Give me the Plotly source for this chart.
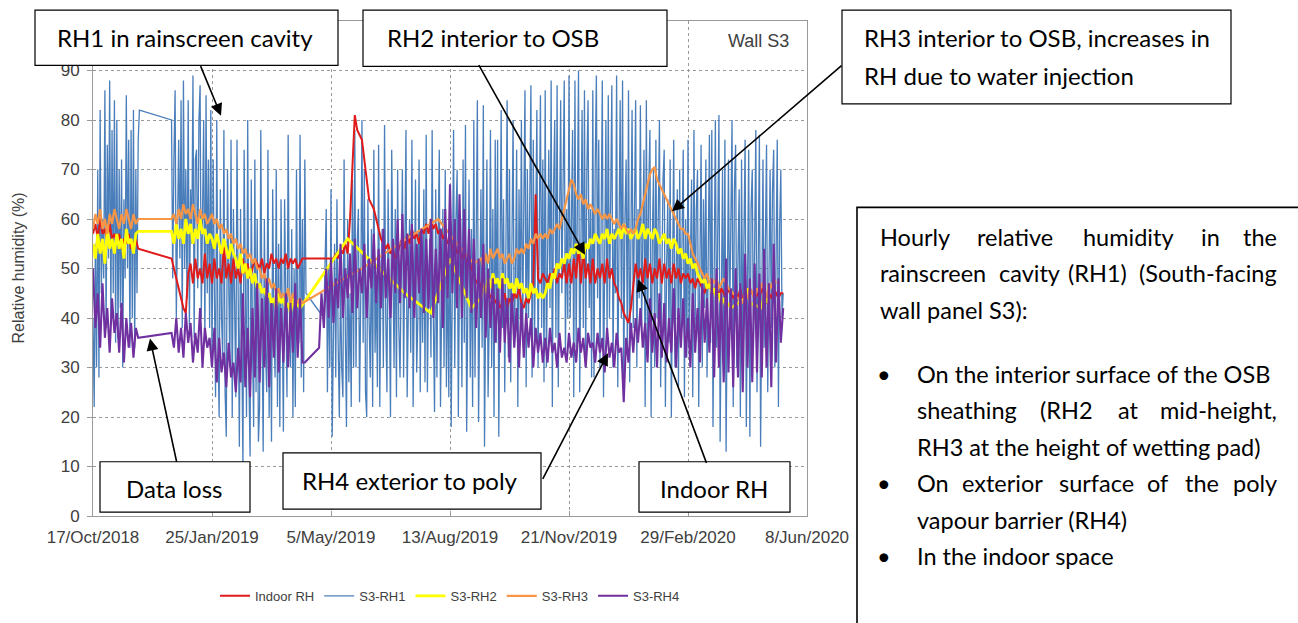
import plotly.graph_objects as go
import pandas as pd

N = None

# ---------------- data ----------------
START = "2018-10-17"
STEP_DAYS = 2       # indoor / RH2 / RH3 / RH4 readings every 2 days
RH1_STEP_DAYS = 1   # RH1 (cavity) readings every day
x_tick_dates = ["2018-10-17", "2019-01-25", "2019-05-05", "2019-08-13",
                "2019-11-21", "2020-02-29", "2020-06-08"]
x_tick_labels = ["17/Oct/2018", "25/Jan/2019", "5/May/2019", "13/Aug/2019",
                 "21/Nov/2019", "29/Feb/2020", "8/Jun/2020"]
y_tick_vals = [0, 10, 20, 30, 40, 50, 60, 70, 80, 90]

# RH1: blocks of 20 days
rh1_blocks = [
    [40, 22, 55, 30, 70, 28, 82, 45, 60, 48, 86, 38, 75, 52, 88, 40, 78, 45, 84, 35],
    [80, 36, 70, 42, 72, 30, 64, 48, 85, 50, 76, 34, 78, 40, 82, 34, 70, 45, 76, 82],
    [N] * 20,
    [N, N, N, N, N, N, 80, 48, 72, 86, 40, 60, 76, 52, 84, 38, 88, 50, 70, 44],
    [84, 38, 66, 55, 89, 36, 72, 74, 46, 80, 87, 40, 62, 80, 35, 85, 45, 72, 38, 82],
    [30, 72, 45, 24, 80, 35, 20, 66, 40, 32, 78, 25, 16, 70, 48, 30, 76, 20, 62, 35],
    [24, 76, 38, 14, 62, 30, 10, 74, 42, 20, 80, 28, 12, 68, 35, 18, 72, 25, 60, 15],
    [22, 78, 40, 13, 60, 33, 25, 74, 20, 45, 15, 66, 38, 28, 70, 22, 55, 18, 64, 30],
    [17, 64, 35, 24, 77, 42, 30, 58, 20, 50, 22, 70, 38, 35, 77, 28, 60, 25, 72, 45],
    [N, N, N, N, N, N, N, N, N, N, N, N, N, N, 40, 55, 62, 25, 50, 30],
    [66, 16, 40, 55, 28, 64, 35, 20, 48, 30, 24, 72, 38, 18, 60, 27, 45, 22, 68, 30],
    [78, 30, 55, 62, 23, 44, 80, 35, 70, 25, 20, 64, 40, 28, 58, 22, 74, 33, 48, 26],
    [75, 22, 50, 58, 30, 79, 40, 25, 66, 36, 20, 74, 45, 30, 62, 24, 70, 38, 28, 55],
    [70, 28, 52, 78, 24, 45, 60, 33, 76, 22, 50, 68, 29, 40, 72, 25, 58, 35, 66, 27],
    [77, 25, 48, 56, 32, 78, 40, 21, 66, 28, 55, 74, 22, 45, 62, 30, 70, 26, 52, 24],
    [64, 18, 42, 78, 30, 60, 70, 20, 50, 60, 26, 72, 35, 79, 17, 45, 68, 28, 58, 22],
    [80, 28, 60, 84, 19, 45, 66, 34, 83, 14, 55, 72, 24, 40, 78, 30, 62, 20, 76, 35],
    [76, 16, 50, 82, 38, 64, 25, 55, 84, 32, 70, 27, 60, 80, 35, 48, 74, 22, 66, 40],
    [80, 35, 62, 86, 26, 70, 40, 58, 87, 28, 76, 34, 65, 82, 30, 55, 85, 38, 72, 27],
    [86, 30, 60, 74, 42, 88, 22, 66, 80, 36, 87, 26, 58, 84, 45, 70, 88, 32, 62, 40],
    [89, 40, 65, 78, 24, 88, 34, 72, 90, 25, 60, 82, 38, 86, 30, 70, 84, 42, 62, 28],
    [86, 28, 70, 89, 44, 76, 30, 62, 88, 24, 55, 80, 36, 85, 40, 68, 87, 30, 58, 45],
    [89, 26, 66, 84, 40, 88, 25, 60, 72, 34, 86, 27, 55, 82, 38, 68, 84, 30, 62, 44],
    [83, 38, 58, 74, 22, 84, 32, 66, 78, 20, 55, 70, 30, 76, 40, 62, 80, 26, 50, 68],
    [74, 22, 50, 64, 35, 72, 20, 58, 76, 30, 45, 66, 26, 70, 38, 55, 74, 24, 60, 32],
    [76, 34, 56, 68, 24, 78, 38, 62, 70, 22, 50, 75, 30, 64, 42, 72, 28, 58, 77, 35],
    [78, 18, 55, 80, 34, 62, 81, 15, 45, 70, 28, 76, 13, 50, 72, 38, 60, 80, 22, 66],
    [75, 30, 52, 66, 20, 72, 36, 58, 76, 18, 48, 74, 16, 62, 70, 34, 55, 78, 25, 60],
    [77, 14, 50, 72, 34, 60, 75, 25, 45, 70, 38, 66, 74, 30, 52, 76, 22, 58, 70, 40],
    [45],
]

# other series: blocks of 10 readings (20 days)
rh4_blocks = [
    [50, 38, 45, 34, 47, 36, 42, 33, 44, 37],
    [41, 33, 43, 31, 40, 34, 39, 32, 38, 36],
    [N] * 10,
    [N, N, N, 37, 34, 40, 33, 38, 32, 41],
    [35, 39, 31, 37, 33, 42, 30, 38, 34, 36],
    [30, 38, 27, 36, 29, 33, 26, 35, 28, 31],
    [25, 34, 27, 45, 26, 38, 24, 42, 28, 47],
    [27, 44, 30, 48, 26, 43, 32, 46, 29, 42],
    [31, 45, 30, 43, 33, 47, 32, 44, 31, 31],
    [N, N, N, N, N, 34, 45, 38, 50, 40],
    [52, 39, 48, 42, 55, 40, 50, 44, 53, 41],
    [56, 42, 50, 45, 55, 40, 52, 46, 57, 43],
    [54, 42, 58, 44, 52, 40, 56, 45, 60, 43],
    [61, 44, 57, 42, 59, 40, 55, 45, 58, 41],
    [56, 42, 60, 40, 54, 43, 58, 38, 62, 44],
    [67, 45, 60, 42, 65, 40, 62, 44, 58, 41],
    [56, 38, 52, 40, 55, 36, 50, 38, 48, 35],
    [46, 33, 48, 35, 44, 31, 45, 34, 42, 30],
    [43, 32, 41, 34, 40, 30, 38, 33, 37, 31],
    [36, 31, 38, 33, 35, 30, 37, 32, 34, 31],
    [37, 32, 35, 31, 38, 33, 36, 30, 37, 34],
    [35, 31, 37, 33, 36, 29, 38, 32, 35, 30],
    [37, 33, 34, 23, 36, 31, 39, 33, 40, 35],
    [42, 34, 39, 31, 44, 33, 41, 30, 45, 32],
    [43, 31, 40, 33, 46, 30, 42, 34, 44, 32],
    [40, 30, 45, 33, 42, 31, 47, 35, 44, 33],
    [48, 28, 50, 30, 45, 27, 52, 29, 46, 26],
    [50, 28, 47, 25, 53, 30, 48, 27, 51, 29],
    [49, 28, 54, 30, 47, 26, 55, 31, 48, 35],
    [42],
]

rh2_blocks = [
    [55, 52, 57, 53, 56, 51, 58, 54, 56, 53],
    [57, 54, 56, 52, 58, 55, 56, 53, 57, 57.5],
    [N] * 10,
    [N, N, N, 57.5, 55, 59, 56, 58, 55, 60],
    [57, 59, 55, 58, 56, 60, 57, 58, 55, 57],
    [56, 54, 57, 55, 53, 56, 54, 52, 55, 53],
    [52, 50, 53, 49, 51, 48, 50, 47, 49, 46],
    [47, 45, 46, 44, 45, 43, 44, 42, 45, 43],
    [44, 42, 43, 41, 44, 42, 43, 42, N, N],
    [N] * 10,
    [N, N, N, N, N, N, N, 56, N, N],
    [N] * 10,
    [N] * 10,
    [N, 45, N, N, N, N, N, N, N, N],
    [N, N, 41, N, N, N, N, N, N, N],
    [52, N, N, N, N, N, N, N, N, 42],
    [N, N, N, 44, 47, 45, 48, 46, 49, 47],
    [48, 46, 49, 47, 48, 46, 47, 45, 48, 46],
    [47, 45, 46, 44, 47, 45, 46, 44, 45, 44],
    [45, 47, 46, 49, 48, 51, 50, 52, 51, 53],
    [52, 54, 53, 55, 53, 54, 52, 55, 54, 56],
    [55, 57, 56, 55, 57, 56, 58, 55, 57, 56],
    [57, 58, 56, 59, 57, 58, 56, 57, 58, 56],
    [57, 59, 56, 58, 57, 56, 58, 57, 55, 56],
    [57, 55, 56, 54, 56, 55, 53, 54, 52, 53],
    [51, 52, 50, 51, 49, 48, 47, 48, 46, 47],
    [45, 46, 44, 45, 43, 44, 42, 43, 42, N],
    [N, N, N, N, 44, 46, 43, N, N, N],
    [N, 42, 45, 43, 46, N, N, N, N, N],
    [N],
]

rh3_blocks = [
    [58, 61, 59, 62, 58, 60, 57, 61, 59, 62],
    [60, 58, 61, 59, 62, 60, 58, 61, 59, 60],
    [N] * 10,
    [N, N, N, 60, 61, 59, 62, 60, 63, 61],
    [62, 60, 63, 61, 59, 62, 60, 61, 59, 60],
    [61, 59, 60, 58, 59, 57, 58, 56, 57, 55],
    [56, 54, 55, 53, 54, 52, 53, 51, 52, 50],
    [50, 48, 49, 47, 48, 46, 47, 45, 46, 44],
    [45, 44, 46, 43, 45, 44, 43, 44, 43, N],
    [N] * 10,
    [N, N, 47, N, N, N, N, N, N, N],
    [N, N, N, 50, N, N, N, N, N, N],
    [N] * 10,
    [N, N, N, N, N, 57, N, N, N, N],
    [N, N, N, N, N, 60, N, N, N, N],
    [N, N, N, 55, N, N, N, N, N, N],
    [51, N, N, 52, 50, 53, 51, 54, 52, 53],
    [54, 52, 53, 51, 52, 53, 51, 52, 54, 53],
    [54, 53, 55, 54, 56, 55, 57, 56, 57, 56],
    [57, 56, 58, 57, 58, 59, 58, 60, 62, 64],
    [66, 68, 67, 65, 64, 65, 63, 64, 62, 63],
    [62, 61, 62, 61, 60, 61, 60, 61, 60, 59],
    [60, 59, 58, 59, 58, 57, 58, 57, 58, 60],
    [61, 63, 65, 67, 69, 70, 70.5, 68, 67, 66],
    [65, 64, 63, 62, 61, 60, 59, 58, 58, 57],
    [57, 55, 53, 52, 51, 50, 49, 48, 49, 47],
    [48, 47, 48, 46, 47, 48, 47, 46, N, N],
    [N, N, N, 43, 45, 44, 46, 45, 44, 46],
    [45, 47, 46, 44, 47, 46, 48, 47, N, N],
    [N],
]

indoor_blocks = [
    [57, 59, 56, 60, 57, 58, 55, 59, 56, 57],
    [55, 57, 54, 56, 55, 57, 54, 55, 56, 54],
    [N] * 10,
    [N, N, N, 52, 50, 48, 46, 44, 42, 41],
    [49, 51, 47, 52, 48, 50, 47, 53, 48, 51],
    [47, 52, 48, 50, 47, 55, 48, 51, 47, 52],
    [48, 50, 47, 52, 49, 51, 48, 50, 52, 51],
    [50, 52, 49, 51, 50, 53, 51, 52, 50, 52],
    [51, 53, 50, 52, 51, 52, 50, 51, 52, 52],
    [N] * 10,
    [52, 52, 53, 52, 54, 53, 55, 53, 60, 72],
    [81, 78, 77, 76, 72, 68, 64, 63, 62, 60],
    [58, 56, 55, 54, 55, 53, 54, 52, 53, 55],
    [56, 54, 57, 55, 58, 56, 57, 55, 58, 57],
    [59, 57, 60, 58, 59, 57, 58, 56, 57, 55],
    [56, 54, 55, 53, 54, 52, 53, 51, 52, 50],
    [49, 47, 48, 46, 47, 45, 46, 44, 45, 43],
    [44, 42, 43, 45, 42, 44, 43, 45, 44, 46],
    [43, 42, 44, 43, 45, 47, 65, 48, 47, 49],
    [48, 47, 49, 48, 50, 47, 49, 48, 51, 47],
    [51, 47, 52, 48, 55, 47, 54, 48, 51, 47],
    [52, 47, 50, 48, 51, 47, 52, 48, 50, 47],
    [46, 44, 43, 41, 40, 39, 42, 47, 51, 48],
    [50, 47, 52, 48, 51, 47, 50, 48, 52, 47],
    [51, 48, 50, 47, 51, 48, 50, 47, 49, 48],
    [49, 47, 48, 46, 48, 47, 46, 45, 47, 46],
    [46, 45, 47, 44, 46, 45, 44, 46, 45, 44],
    [45, 44, 46, 43, 45, 44, 46, 45, 44, 45],
    [44, 46, 45, 43, 45, 44, 46, 45, 44, 45],
    [45],
]


def flat(blocks):
    out = []
    for b in blocks:
        out.extend(b)
    return out


indoor_rh = flat(indoor_blocks)
s3_rh1 = flat(rh1_blocks)
s3_rh2 = flat(rh2_blocks)
s3_rh3 = flat(rh3_blocks)
s3_rh4 = flat(rh4_blocks)

n_pts = len(indoor_rh)
for s in (s3_rh2, s3_rh3, s3_rh4):
    assert len(s) == n_pts, len(s)
start_ts = pd.Timestamp(START)
dates = start_ts + pd.to_timedelta([i * STEP_DAYS for i in range(n_pts)], unit="D")
dates_rh1 = start_ts + pd.to_timedelta([i * RH1_STEP_DAYS for i in range(len(s3_rh1))], unit="D")

# ---------------- figure ----------------
L, R, T, B = 93, 807, 21, 523


def px(x):
    return (x - L) / (R - L)


def py(y):
    return (B - y) / (B - T)


fig = go.Figure()

series = [
    ("S3-RH1", dates_rh1, s3_rh1, "#4a7ebb", 1.3, 2),
    ("Indoor RH", dates, indoor_rh, "#e01b1b", 2.0, 1),
    ("S3-RH2", dates, s3_rh2, "#ffff00", 2.8, 3),
    ("S3-RH3", dates, s3_rh3, "#f79646", 2.2, 4),
    ("S3-RH4", dates, s3_rh4, "#7030a0", 2.1, 5),
]
for name, xs, vals, col, w, rank in series:
    fig.add_trace(go.Scatter(
        x=xs, y=vals, name=name, mode="lines", connectgaps=True,
        line=dict(color=col, width=w), legendrank=rank, hoverinfo="skip"))

axis_grey = "#9a9a9a"
TICKFONT = "Liberation Sans, Arial"
fig.update_xaxes(
    type="date", range=[x_tick_dates[0], x_tick_dates[-1]],
    tickvals=x_tick_dates, ticktext=x_tick_labels,
    showgrid=True, gridcolor=axis_grey, griddash="dot", gridwidth=1,
    showline=True, linecolor=axis_grey, linewidth=1, mirror=True,
    ticks="inside", ticklen=5, tickcolor=axis_grey,
    tickfont=dict(family=TICKFONT, size=17, color="#404040"),
    ticklabelstandoff=6, zeroline=False)
fig.update_yaxes(
    range=[0, 100], tickvals=y_tick_vals,
    showgrid=True, gridcolor=axis_grey, griddash="dot", gridwidth=1,
    showline=True, linecolor=axis_grey, linewidth=1, mirror=True,
    ticks="outside", ticklen=5, tickcolor=axis_grey,
    tickfont=dict(family=TICKFONT, size=17, color="#404040"),
    ticklabelstandoff=4, zeroline=False)

shapes = []


def box(x0, y0, x1, y1, w=1.2):
    shapes.append(dict(type="rect", xref="paper", yref="paper",
                       x0=px(x0), x1=px(x1), y0=py(y1), y1=py(y0),
                       line=dict(color="black", width=w), fillcolor="white",
                       layer="above"))


box(35, 10, 338, 66)
box(363, 10, 667, 67)
box(842, 10, 1231, 105)
box(100, 468, 250, 519)
box(283, 459, 541, 516)
box(639, 468, 790, 519)
box(857, 210, 1320, 660, w=1.6)

anns = []
BOXFONT = "Lato, Carlito, Calibri, sans-serif"


def txt(text, x, y, anchor="left", size=24):
    anns.append(dict(text=text, x=px(x), y=py(y), xref="paper", yref="paper",
                     xanchor=anchor, yanchor="middle", showarrow=False,
                     font=dict(family=BOXFONT, size=size, color="black")))


def arrow(tail, head):
    anns.append(dict(text="", x=px(head[0]), y=py(head[1]), xref="paper", yref="paper",
                     ax=tail[0] - head[0], ay=tail[1] - head[1],
                     showarrow=True, arrowhead=2, arrowsize=1.5, arrowwidth=1.6,
                     arrowcolor="black", standoff=0, startstandoff=0))


txt("RH1 in rainscreen cavity", 55, 38)
txt("RH2 interior to OSB", 385, 38)
txt("RH3 interior to OSB, increases in", 862, 38)
txt("RH due to water injection", 862, 76)
txt("Data loss", 174, 495, "center")
txt("RH4 exterior to poly", 410, 487, "center")
txt("Indoor RH", 714, 495, "center")

# right-hand justified text block
RS = 23.5
for word, x, a in [("Hourly", 878, "left"), ("relative", 1015, "center"),
                   ("humidity", 1128, "center"), ("in", 1210, "center"),
                   ("the", 1279, "right")]:
    txt(word, x, 240, a, RS)
for word, x, a in [("rainscreen", 878, "left"), ("cavity", 1029, "center"),
                   ("(RH1)", 1097, "center"), ("(South-facing", 1279, "right")]:
    txt(word, x, 277, a, RS)
txt("wall panel S3):", 878, 314, "left", RS)
for y in (379, 490, 564):
    txt("•", 884, y, "center", RS)
txt("On the interior surface of the OSB", 915, 379, "left", RS)
for word, x, a in [("sheathing", 915, "left"), ("(RH2", 1066, "center"),
                   ("at", 1128, "center"), ("mid-height,", 1279, "right")]:
    txt(word, x, 416, a, RS)
txt("RH3 at the height of wetting pad)", 915, 453, "left", RS)
for word, x, a in [("On", 915, "left"), ("exterior", 1003, "center"),
                   ("surface", 1096, "center"), ("of", 1157, "center"),
                   ("the", 1202, "center"), ("poly", 1279, "right")]:
    txt(word, x, 490, a, RS)
txt("vapour barrier (RH4)", 915, 527, "left", RS)
txt("In the indoor space", 915, 564, "left", RS)

arrow((200, 66), (221, 117))
arrow((478, 67), (585, 258))
arrow((843, 67), (672, 214))
arrow((177, 468), (150, 343))
arrow((542, 485), (608, 358))
arrow((707, 468), (638, 283))

anns.append(dict(text="Wall S3", x=px(758), y=py(41), xref="paper", yref="paper",
                 showarrow=False, xanchor="center", yanchor="middle",
                 font=dict(family=TICKFONT, size=18, color="#404040")))
anns.append(dict(text="Relative humidity (%)", x=px(18), y=py(272), xref="paper",
                 yref="paper", showarrow=False, textangle=-90, xanchor="center",
                 yanchor="middle",
                 font=dict(family=TICKFONT, size=16, color="#404040")))

fig.update_layout(
    width=1298, height=623,
    margin=dict(l=L, r=1298 - R, t=T, b=623 - B),
    paper_bgcolor="white", plot_bgcolor="white",
    shapes=shapes, annotations=anns,
    showlegend=True,
    legend=dict(orientation="h", x=0.5, xanchor="center", y=py(604), yanchor="middle",
                font=dict(family=TICKFONT, size=13, color="#404040"),
                itemwidth=30, bgcolor="rgba(0,0,0,0)"),
)

fig.write_html("out.html")
